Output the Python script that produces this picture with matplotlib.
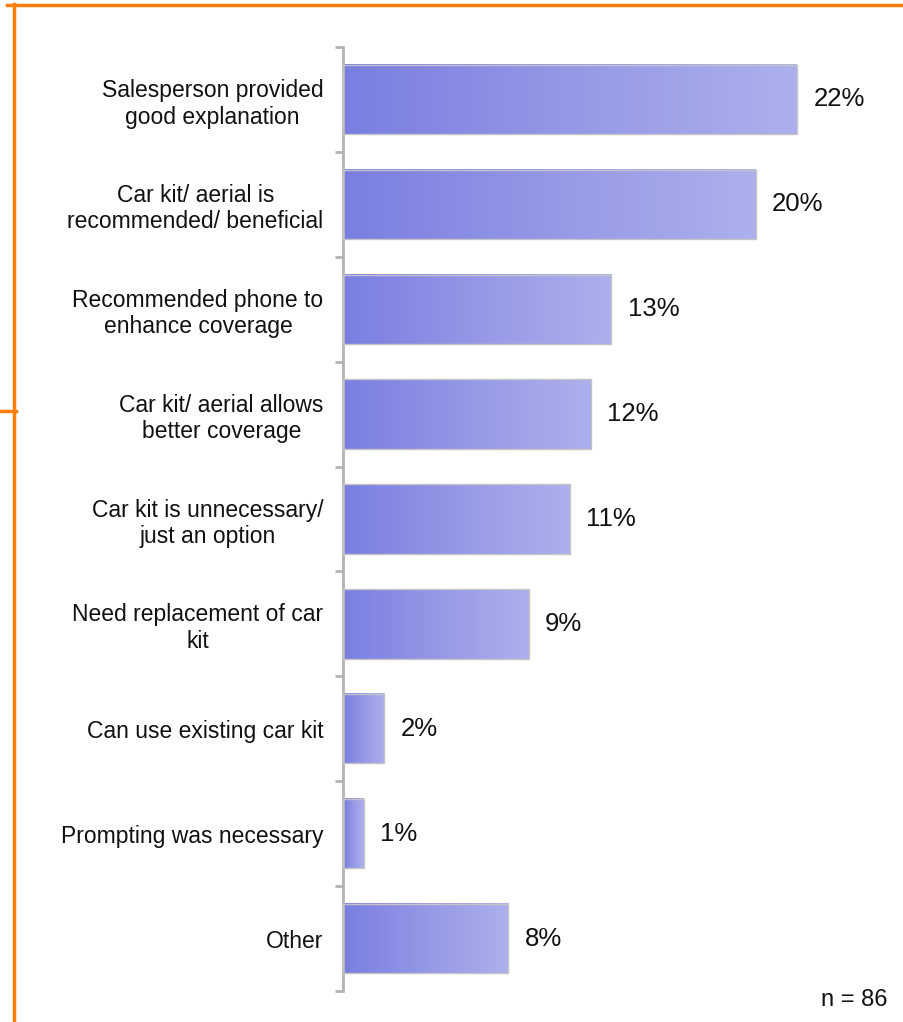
import numpy as np
import matplotlib
matplotlib.use('Agg')
import matplotlib.pyplot as plt
from matplotlib.colors import LinearSegmentedColormap
from matplotlib.lines import Line2D

plt.rcParams['font.family'] = ['Liberation Sans', 'DejaVu Sans']

categories = [
    'Salesperson provided\ngood explanation',
    'Car kit/ aerial is\nrecommended/ beneficial',
    'Recommended phone to\nenhance coverage',
    'Car kit/ aerial allows\nbetter coverage',
    'Car kit is unnecessary/\njust an option',
    'Need replacement of car\nkit',
    'Can use existing car kit',
    'Prompting was necessary',
    'Other',
]
values = [22, 20, 13, 12, 11, 9, 2, 1, 8]
sample_note = 'n = 86'

W, H = 904, 1022
fig = plt.figure(figsize=(W / 100, H / 100), dpi=100)
ax = fig.add_axes([343 / W, 1 - 991 / H, (900 - 343) / W, (991 - 47) / H])

bar_h = 0.66
grad = LinearSegmentedColormap.from_list('bar', ['#7a7ee0', '#9598e6', '#acb0ec'])
g = np.linspace(0, 1, 256).reshape(1, -1)

for i, v in enumerate(values):
    ax.imshow(g, cmap=grad, aspect='auto', interpolation='bilinear',
              extent=[0, v, i + bar_h / 2, i - bar_h / 2], zorder=2)
    ax.add_patch(plt.Rectangle((0, i - bar_h / 2), v, bar_h, facecolor='none',
                               edgecolor='#c4c4c8', linewidth=1.0, zorder=3))
    ax.text(v + 0.8, i, f'{v}%', va='center', ha='left', fontsize=18.5, color='#111111')

ax.set_xlim(0, 27)
ax.set_ylim(len(values) - 0.5, -0.5)

for s in ['top', 'right', 'bottom']:
    ax.spines[s].set_visible(False)
ax.spines['left'].set_color('#b4b4b4')
ax.spines['left'].set_linewidth(2)

ax.set_xticks([])
ax.set_yticks(np.arange(-0.5, len(values) + 0.5, 1), minor=True)
ax.set_yticks(range(len(values)))
ax.set_yticklabels(categories, fontsize=16.5, multialignment='center', color='#111111')
ax.tick_params(axis='y', which='major', length=0, pad=14)
ax.tick_params(axis='y', which='minor', length=6, width=2, color='#b4b4b4')

# orange frame lines
orange = '#ff7f0e'
fig.add_artist(Line2D([7 / W, 1], [1 - 5 / H, 1 - 5 / H], color=orange, linewidth=2.5))
fig.add_artist(Line2D([14 / W, 14 / W], [1 - 4 / H, 0], color=orange, linewidth=2.5))
fig.add_artist(Line2D([0, 16 / W], [1 - 411 / H, 1 - 411 / H], color=orange, linewidth=2.5))

fig.text(888 / W, 1 - 1000 / H, sample_note, ha='right', va='center', fontsize=17, color='#111111')

fig.savefig('out.png', dpi=100, facecolor='white')
